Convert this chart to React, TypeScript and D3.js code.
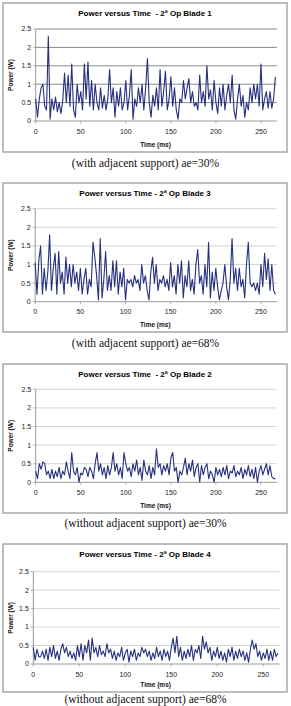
import React from "react";
import * as d3 from "d3";

// ---- data (Power in W, sampled every 2 ms) ----
const timeMs: number[] = d3.range(0, 267, 2);
const yTicks = [0, 0.5, 1, 1.5, 2, 2.5];
const xTicks = [0, 50, 100, 150, 200, 250];

const blade1 = [
  0.6, 0.1, 0.6, 0.9, 1.0, 0.4, 0.3, 2.3, 0.05, 0.6,
  0.3, 0.65, 0.25, 0.5, 0.2, 0.55, 1.3, 0.5, 1.25, 0.4,
  1.55, 0.3, 0.1, 1.0, 0.5, 0.8, 0.3, 1.55, 0.6, 1.6,
  0.4, 1.1, 0.3, 1.0, 0.5, 0.3, 0.9, 0.35, 0.7, 0.3,
  0.6, 1.4, 0.5, 0.9, 0.1, 0.8, 0.4, 0.9, 0.3, 0.5,
  1.1, 0.3, 0.7, 1.4, 0.05, 0.6, 0.4, 0.9, 0.5, 1.0,
  0.3, 0.9, 1.7, 0.5, 0.1, 0.7, 0.4, 0.9, 0.3, 1.4,
  0.4, 0.8, 1.35, 0.3, 0.6, 1.2, 0.4, 0.9, 0.3, 0.05,
  0.6, 0.5, 1.1, 0.6, 0.9, 1.15, 0.5, 0.8, 0.4, 0.5,
  0.3, 1.25, 0.5, 0.8, 0.4, 1.5, 0.6, 0.85, 0.3, 1.1,
  0.5, 0.2, 0.9, 0.4, 1.0, 0.3, 0.7, 1.0, 0.5, 1.25,
  0.3, 0.05, 0.6, 1.0, 0.4, 0.7, 0.1, 0.5, 0.3, 0.9,
  0.5, 1.0, 0.6, 1.0, 0.4, 1.55, 0.3, 0.6, 0.8, 0.35,
  0.8, 0.35, 0.6, 1.2,
];

const blade3 = [
  1.05, 0.2, 1.1, 1.5, 0.2, 0.9, 0.3, 0.8, 1.8, 0.3,
  0.9, 1.3, 0.2, 1.35, 0.5, 0.8, 0.2, 1.2, 0.5, 1.0,
  0.4, 1.0, 0.5, 0.8, 0.3, 0.9, 0.2, 0.6, 0.9, 0.2,
  0.6, 0.4, 1.6, 1.2, 0.7, 0.05, 1.7, 0.1, 0.6, 1.35,
  0.3, 0.7, 0.3, 1.1, 0.4, 1.1, 0.2, 0.8, 0.4, 0.9,
  0.05, 0.6, 0.5, 0.6, 0.4, 0.7, 0.5, 0.6, 0.3, 1.0,
  0.5, 0.7, 0.3, 0.05, 0.8, 1.2, 0.5, 1.0, 0.3, 0.6,
  0.5, 0.7, 0.4, 0.6, 0.3, 1.05, 0.4, 0.7, 0.2, 1.0,
  0.5, 1.1, 0.1, 0.7, 0.4, 1.1, 0.3, 0.6, 0.2, 1.0,
  1.4, 0.5, 0.7, 0.2, 1.0, 0.4, 1.6, 0.1, 0.8, 0.3,
  0.9, 0.4, 0.05, 0.3, 0.5, 1.0, 0.4, 0.05, 0.6, 1.7,
  0.5, 0.9, 0.3, 0.9, 0.4, 0.6, 0.1, 1.0, 1.6, 0.5,
  0.4, 0.5, 0.3, 0.5, 0.2, 1.0, 0.4, 1.3, 0.6, 1.15,
  0.3, 1.0, 0.3, 0.2,
];

const blade2 = [
  0.3, 0.1, 0.5, 0.35, 0.55, 0.5, 0.2, 0.3, 0.1, 0.35,
  0.1, 0.3, 0.15, 0.4, 0.1, 0.3, 0.2, 0.55, 0.3, 0.1,
  0.8, 0.3, 0.2, 0.4, 0.0, 0.25, 0.2, 0.4, 0.35, 0.15,
  0.4, 0.3, 0.1, 0.5, 0.8, 0.3, 0.5, 0.2, 0.4, 0.1,
  0.45, 0.2, 0.4, 0.8, 0.3, 0.5, 0.2, 0.4, 0.1, 0.8,
  0.5, 0.3, 0.4, 0.15, 0.5, 0.3, 0.6, 0.2, 0.4, 0.05,
  0.6, 0.3, 0.2, 0.45, 0.1, 0.4, 0.2, 0.9, 0.4, 0.5,
  0.2, 0.45, 0.3, 0.5, 0.2, 0.65, 0.8, 0.3, 0.4, 0.0,
  0.3, 0.2, 0.4, 0.65, 0.2, 0.5, 0.3, 0.6, 0.15, 0.4,
  0.5, 0.0, 0.45, 0.2, 0.4, 0.5, 0.1, 0.3, 0.2, 0.0,
  0.4, 0.2, 0.35, 0.15, 0.4, 0.2, 0.45, 0.1, 0.3, 0.25,
  0.45, 0.15, 0.3, 0.2, 0.4, 0.1, 0.35, 0.2, 0.45, 0.15,
  0.35, 0.1, 0.4, 0.0, 0.3, 0.45, 0.2, 0.35, 0.5, 0.2,
  0.45, 0.15, 0.1, 0.1,
];

const blade4 = [
  0.45, 0.1, 0.4, 0.2, 0.2, 0.35, 0.15, 0.4, 0.1, 0.45,
  0.2, 0.5, 0.15, 0.35, 0.1, 0.4, 0.55, 0.3, 0.45, 0.2,
  0.35, 0.15, 0.3, 0.1, 0.5, 0.2, 0.55, 0.1, 0.5, 0.3,
  0.65, 0.1, 0.7, 0.3, 0.45, 0.2, 0.5, 0.25, 0.35, 0.2,
  0.55, 0.3, 0.4, 0.15, 0.35, 0.1, 0.3, 0.2, 0.45, 0.1,
  0.3, 0.4, 0.05, 0.35, 0.2, 0.4, 0.1, 0.3, 0.2, 0.45,
  0.3, 0.4, 0.2, 0.35, 0.1, 0.3, 0.15, 0.45, 0.2, 0.35,
  0.1, 0.4, 0.2, 0.35, 0.1, 0.45, 0.7, 0.3, 0.75, 0.2,
  0.45, 0.1, 0.35, 0.15, 0.4, 0.2, 0.5, 0.1, 0.4, 0.3,
  0.5, 0.15, 0.75, 0.4, 0.6, 0.3, 0.45, 0.1, 0.35, 0.2,
  0.45, 0.15, 0.35, 0.1, 0.3, 0.05, 0.4, 0.2, 0.45, 0.1,
  0.35, 0.15, 0.4, 0.2, 0.35, 0.1, 0.3, 0.05, 0.4, 0.65,
  0.4, 0.55, 0.2, 0.35, 0.1, 0.3, 0.15, 0.4, 0.1, 0.35,
  0.1, 0.4, 0.2, 0.3,
];

const titles = [
  "Power versus Time  - 2ª Op Blade 1",
  "Power versus Time - 2ª Op Blade 3",
  "Power versus Time  - 2ª Op Blade 2",
  "Power versus Time - 2ª Op Blade 4",
];
const captions = [
  "(with adjacent support) ae=30%",
  "(with adjacent support) ae=68%",
  "(without adjacent support) ae=30%",
  "(without adjacent support) ae=68%",
];
const seriesList = [blade1, blade3, blade2, blade4];

// ---- layout ----
const layouts = [
  { boxTop: 3, boxBottom: 152, plotTop: 29, plotBottom: 121, x0: 35.7, xEnd: 275.4, grid: "#8a8a8a", titleY: 15.5, tickY: 133.5, axisTitleY: 146.5, capY: 167 },
  { boxTop: 183, boxBottom: 332, plotTop: 208.7, plotBottom: 301.7, x0: 35.2, xEnd: 275.4, grid: "#d4d4d4", titleY: 196, tickY: 314.3, axisTitleY: 327, capY: 347 },
  { boxTop: 364, boxBottom: 513, plotTop: 389.3, plotBottom: 482.3, x0: 35.7, xEnd: 275.4, grid: "#d4d4d4", titleY: 376.8, tickY: 494.5, axisTitleY: 507.5, capY: 527 },
  { boxTop: 544, boxBottom: 692, plotTop: 571.7, plotBottom: 664, x0: 33.3, xEnd: 278, grid: "#d4d4d4", titleY: 557, tickY: 676.8, axisTitleY: 687, capY: 702.5 },
];

const Panel = ({ idx }: { idx: number }) => {
  const L = layouts[idx];
  const data = seriesList[idx];
  const x = d3.scaleLinear().domain([0, 266]).range([L.x0, L.xEnd]);
  const y = d3.scaleLinear().domain([0, 2.5]).range([L.plotBottom, L.plotTop]);
  const line = d3
    .line<number>()
    .x((_, i) => x(timeMs[i]))
    .y((d) => y(d));
  const right = L.xEnd + 1.5;
  return (
    <g>
      <rect x={3} y={L.boxTop} width={284} height={L.boxBottom - L.boxTop} fill="#fff" stroke="#a8a8a8" strokeWidth={1.5} />
      <text x={145} y={L.titleY} textAnchor="middle" fontFamily="Liberation Sans, Arial, sans-serif" fontWeight="bold" fontSize={8} style={{ whiteSpace: "pre" }}>
        {titles[idx]}
      </text>
      {yTicks.filter((t) => t > 0).map((t) => (
        <line key={t} x1={L.x0} x2={right} y1={y(t)} y2={y(t)} stroke={L.grid} strokeWidth={1} />
      ))}
      {yTicks.map((t) => (
        <g key={"yt" + t}>
          <line x1={L.x0 - 2.5} x2={L.x0} y1={y(t)} y2={y(t)} stroke="#999" strokeWidth={0.8} />
          <text x={L.x0 - 4.5} y={y(t) + 2.4} textAnchor="end" fontFamily="Liberation Sans, Arial, sans-serif" fontSize={7} fill="#222">
            {t}
          </text>
        </g>
      ))}
      <line x1={L.x0} x2={L.x0} y1={L.plotTop} y2={L.plotBottom} stroke="#999" strokeWidth={1} />
      <line x1={L.x0} x2={right} y1={L.plotBottom} y2={L.plotBottom} stroke="#999" strokeWidth={1} />
      {xTicks.map((t) => (
        <g key={"xt" + t}>
          <line x1={x(t)} x2={x(t)} y1={L.plotBottom} y2={L.plotBottom + 2.5} stroke="#999" strokeWidth={0.8} />
          <text x={x(t)} y={L.tickY} textAnchor="middle" fontFamily="Liberation Sans, Arial, sans-serif" fontSize={7} fill="#222">
            {t}
          </text>
        </g>
      ))}
      <path d={line(data) || ""} fill="none" stroke="#26307f" strokeWidth={1.1} strokeLinejoin="round" />
      <text x={(L.x0 + L.xEnd) / 2} y={L.axisTitleY} textAnchor="middle" fontFamily="Liberation Sans, Arial, sans-serif" fontWeight="bold" fontSize={6.5} fill="#111">
        Time (ms)
      </text>
      <text
        transform={`translate(12.5, ${(L.plotTop + L.plotBottom) / 2}) rotate(-90)`}
        textAnchor="middle"
        fontFamily="Liberation Sans, Arial, sans-serif"
        fontWeight="bold"
        fontSize={6.5}
        fill="#111"
      >
        Power (W)
      </text>
      <text x={145.5} y={L.capY} textAnchor="middle" fontFamily="Liberation Serif, Times New Roman, serif" fontSize={11.5} fill="#111">
        {captions[idx]}
      </text>
    </g>
  );
};

export default function App() {
  return (
    <svg width={291} height={706} style={{ position: "absolute", left: 0, top: 0, background: "#fff" }}>
      <rect width={291} height={706} fill="#fff" />
      {[0, 1, 2, 3].map((i) => (
        <Panel key={i} idx={i} />
      ))}
    </svg>
  );
}
